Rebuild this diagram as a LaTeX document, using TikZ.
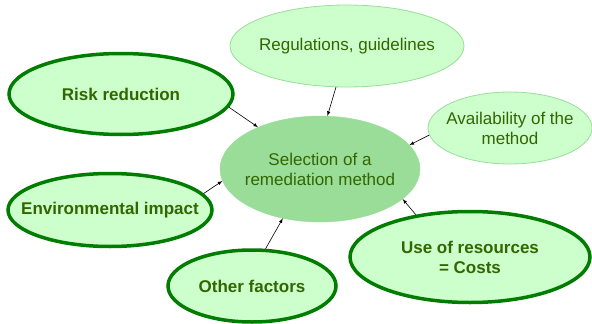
\documentclass[tikz,border=0pt]{standalone}
\usepackage{fontspec}
\setmainfont{Liberation Sans}
\usetikzlibrary{shapes.geometric, arrows.meta}

\definecolor{lightfill}{RGB}{204,255,204}
\definecolor{midfill}{RGB}{153,221,153}
\definecolor{darkborder}{RGB}{0,125,0}
\definecolor{textgreen}{RGB}{51,102,0}

\begin{document}
\begin{tikzpicture}[
    x=1pt, y=-1pt,
    >=latex,
    % Styles
    factor/.style={ % thin light ellipse
        ellipse,
        fill=lightfill,
        draw=midfill,
        line width=0.8pt,
        inner sep=0pt
    },
    keyfactor/.style={ % bold ellipse
        ellipse,
        fill=lightfill,
        draw=darkborder,
        line width=3.5pt,
        inner sep=0pt
    },
    goal/.style={
        ellipse,
        fill=midfill,
        draw=midfill,
        inner sep=0pt
    },
    every label/.style={
        align=center,
        text=textgreen,
        font=\fontsize{17}{20}\selectfont
    },
    arrow/.style={
        -latex,
        line width=0.6pt
    }
]
    \useasboundingbox (0,0) rectangle (592,324);

    % Centre
    \node[goal, minimum width=200pt, minimum height=106pt,
        label={center:Selection of a\\remediation method}] (sel) at (320,169) {};

    % Factors
    \node[factor, minimum width=234pt, minimum height=82pt,
        label={center:Regulations, guidelines}] (reg) at (347,46) {};
    \node[factor, minimum width=164pt, minimum height=72pt,
        label={center:Availability of the\\method}] (avail) at (510,128) {};

    % Key factors
    \node[keyfactor, minimum width=224pt, minimum height=81pt,
        label={[font=\fontsize{17}{20}\selectfont\bfseries]center:Risk reduction}] (risk) at (121,94) {};
    \node[keyfactor, minimum width=204pt, minimum height=73pt,
        label={[font=\fontsize{17}{20}\selectfont\bfseries]center:Environmental impact}] (env) at (110,210) {};
    \node[keyfactor, minimum width=168pt, minimum height=72pt,
        label={[font=\fontsize{17}{20}\selectfont\bfseries]center:Other factors}] (other) at (252,286) {};
    \node[keyfactor, minimum width=240pt, minimum height=91pt,
        label={[font=\fontsize{17}{20}\selectfont\bfseries]center:Use of resources\\= Costs}] (res) at (470,257) {};

    % Connections
    \foreach \a/\b in {risk.-7/sel.146, reg.-105/sel.82, avail.185/sel.15,
                      env.10/sel.187, other.70/sel.233, res.142/sel.-20} {
        \draw[arrow] (\a) -- (\b);
    }
\end{tikzpicture}
\end{document}
